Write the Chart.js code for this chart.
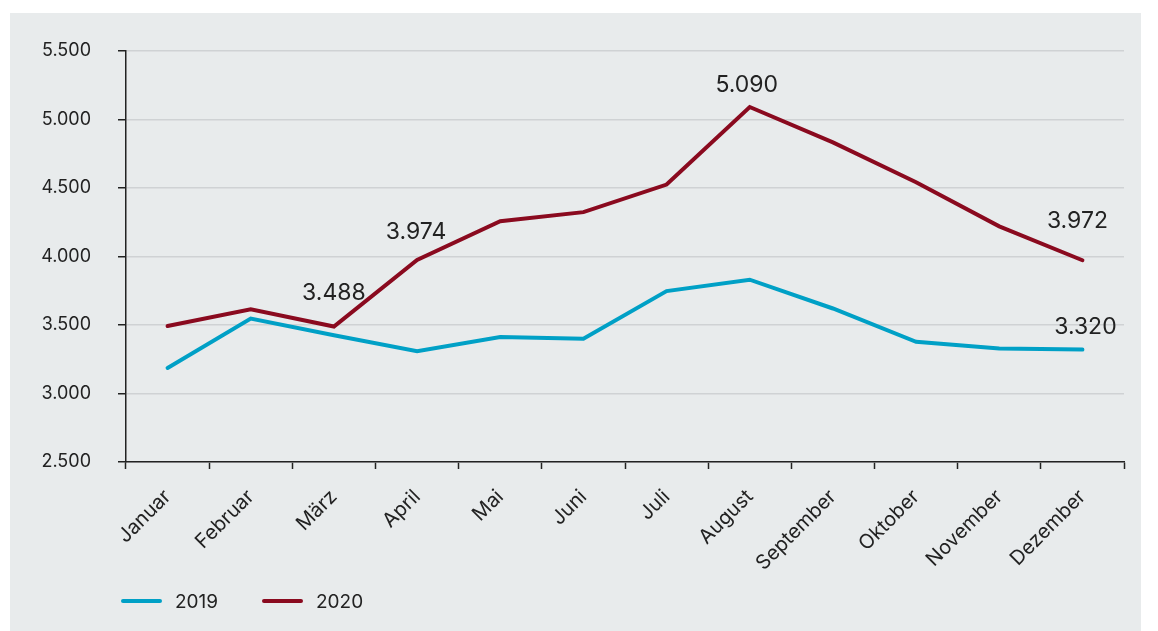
<!DOCTYPE html>
<html lang="de">
<head>
<meta charset="utf-8">
<title>2019 / 2020</title>
<script src="https://cdn.jsdelivr.net/npm/chart.js@4/dist/chart.umd.min.js"></script>
<style>
  html, body { margin: 0; padding: 0; background: #ffffff; }
  body { width: 1158px; height: 631px; position: relative; overflow: hidden; }
  .panel {
    position: absolute;
    left: 10px;
    top: 13px;
    width: 1131px;
    height: 618px;
    background: #e8ebec;
  }
  canvas { display: block; }
</style>
</head>
<body>
<div class="panel">
  <canvas id="monthChart" width="1131" height="618"></canvas>
</div>
<script>
const months = ['Januar', 'Februar', 'März', 'April', 'Mai', 'Juni',
  'Juli', 'August', 'September', 'Oktober', 'November', 'Dezember'];

const values2019 = [3186, 3546, 3425, 3308, 3412, 3400, 3747, 3830, 3620, 3377, 3328, 3320];
const values2020 = [3492, 3614, 3488, 3974, 4257, 4323, 4524, 5090, 4832, 4541, 4219, 3972];

const yTicks = [2500, 3000, 3500, 4000, 4500, 5000, 5500];

// which points carry a value label: [dataset index, month index]
const labelledPoints = [[1, 2], [1, 3], [1, 7], [1, 11], [0, 11]];

const BLUE = '#00a0c6';
const RED = '#8a0a1f';
const INK = '#222222';
const FONT = 'Inter, "Open Sans", sans-serif';

function formatDe(v) {
  return String(v).replace(/\B(?=(\d{3})+(?!\d))/g, '.');
}

// value labels above selected points
const pointLabels = {
  id: 'pointLabels',
  afterDatasetsDraw(chart) {
    const ctx = chart.ctx;
    const shift = { '1-11': [-5, -39], '1-2': [0, -34], '1-3': [-1, -28], '1-7': [-3, -22], '0-11': [3, -23] };
    ctx.save();
    ctx.font = '400 23px ' + FONT;
    ctx.fillStyle = INK;
    ctx.textAlign = 'center';
    ctx.textBaseline = 'middle';
    labelledPoints.forEach(([d, i]) => {
      const el = chart.getDatasetMeta(d).data[i];
      const [dx, dy] = shift[d + '-' + i] || [0, -26];
      ctx.fillText(formatDe(chart.data.datasets[d].data[i]), el.x + dx, el.y + dy);
    });
    ctx.restore();
  }
};

// legend below the axis: short rounded line + year
const lineLegend = {
  id: 'lineLegend',
  afterDraw(chart) {
    const ctx = chart.ctx;
    const y = 588;
    let x = 113;
    ctx.save();
    ctx.font = '400 19px ' + FONT;
    ctx.textBaseline = 'middle';
    chart.data.datasets.forEach(ds => {
      ctx.strokeStyle = ds.borderColor;
      ctx.lineWidth = 4;
      ctx.lineCap = 'round';
      ctx.beginPath();
      ctx.moveTo(x, y);
      ctx.lineTo(x + 37, y);
      ctx.stroke();
      ctx.fillStyle = INK;
      ctx.fillText(ds.label, x + 52, y + 1);
      x += 141;
    });
    ctx.restore();
  }
};

const chart = new Chart(document.getElementById('monthChart'), {
  type: 'line',
  data: {
    labels: months,
    datasets: [
      { label: '2019', data: values2019, borderColor: BLUE, backgroundColor: BLUE },
      { label: '2020', data: values2020, borderColor: RED, backgroundColor: RED }
    ]
  },
  options: {
    responsive: false,
    animation: false,
    devicePixelRatio: 1,
    layout: { padding: { top: 37, right: 17, bottom: 60, left: 0 } },
    elements: {
      line: { borderWidth: 4, tension: 0, borderCapStyle: 'round', borderJoinStyle: 'miter' },
      point: { radius: 0, hoverRadius: 0 }
    },
    plugins: {
      legend: { display: false },
      tooltip: { enabled: false }
    },
    scales: {
      x: {
        offset: true,
        grid: { display: true, drawOnChartArea: false, offset: true, tickLength: 7, tickColor: INK, tickWidth: 1.5 },
        border: { display: true, color: INK, width: 1.5 },
        ticks: {
          autoSkip: false,
          minRotation: 45,
          maxRotation: 45,
          padding: 16,
          color: INK,
          font: { family: FONT, size: 20 }
        },
        afterFit(scale) { scale.height = 109; }
      },
      y: {
        min: 2500,
        max: 5500,
        afterBuildTicks(scale) { scale.ticks = yTicks.map(v => ({ value: v })); },
        grid: { color: '#cfd2d4', lineWidth: 1.5, tickLength: 8, tickColor: INK, tickWidth: 1.5 },
        border: { display: true, color: INK, width: 1.5 },
        ticks: {
          padding: 27,
          color: INK,
          font: { family: FONT, size: 18 },
          callback: v => formatDe(v)
        },
        afterFit(scale) { scale.width = 116; }
      }
    }
  },
  plugins: [pointLabels, lineLegend]
});
</script>
</body>
</html>
